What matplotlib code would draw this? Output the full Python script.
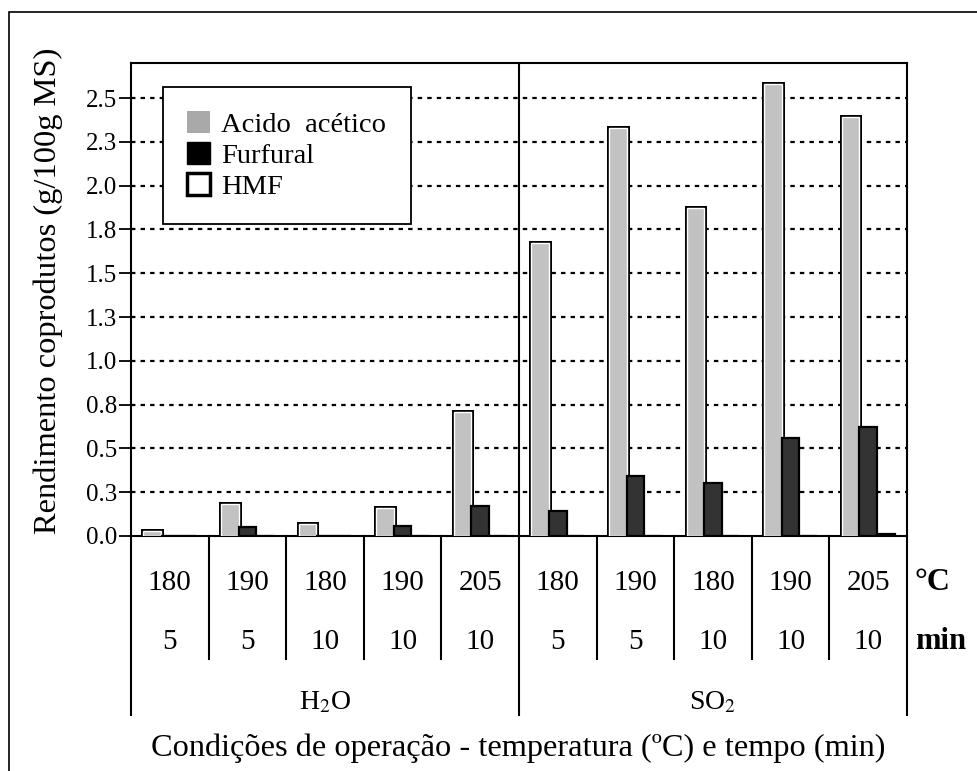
import matplotlib
matplotlib.use('Agg')
import matplotlib.pyplot as plt
import matplotlib.patheffects as pe
from matplotlib.patches import Patch, Rectangle
import numpy as np

plt.rcParams['font.family'] = ['Liberation Serif', 'DejaVu Serif']
plt.rcParams['mathtext.fontset'] = 'stix'

# rendimento dos coprodutos (g/100g MS) por condição de operação
temperaturas = ['180', '190', '180', '190', '205', '180', '190', '180', '190', '205']
tempos = ['5', '5', '10', '10', '10', '5', '5', '10', '10', '10']
meios = ['H$_2$O', 'SO$_2$']
acido_acetico = [0.03, 0.18, 0.07, 0.16, 0.71, 1.67, 2.33, 1.87, 2.58, 2.39]
furfural = [0.00, 0.05, 0.00, 0.055, 0.17, 0.145, 0.34, 0.30, 0.56, 0.62]
hmf = [0.0, 0.0, 0.0, 0.0, 0.0, 0.0, 0.0, 0.0, 0.0, 0.01]
yticks = [0.0, 0.25, 0.5, 0.75, 1.0, 1.25, 1.5, 1.75, 2.0, 2.25, 2.5]
ytick_labels = ['0.0', '0.3', '0.5', '0.8', '1.0', '1.3', '1.5', '1.8', '2.0', '2.3', '2.5']

W, H = 978, 771
fig = plt.figure(figsize=(W / 100, H / 100), dpi=100)
ax = fig.add_axes([131 / W, 1 - 536 / H, (907 - 131) / W, (536 - 63) / H])

# moldura externa da figura
fig.patches.append(Rectangle((9 / W, -0.1), 1.2, 1.1 - 12 / H, transform=fig.transFigure,
                             fill=False, ec='black', lw=1.2))

x = np.arange(len(temperaturas))
w = 0.226
ax.bar(x - w, acido_acetico, w, color='#c2c2c2', ec='white', lw=1.0, zorder=3,
       path_effects=[pe.Stroke(linewidth=3.6, foreground='black'), pe.Normal()])
ax.bar(x, furfural, w, color='#333333', ec='black', lw=1.6, zorder=3)
ax.bar(x + w, hmf, w, color='white', ec='black', lw=1.6, zorder=3)

ax.set_xlim(-0.5, 9.5)
ax.set_ylim(0, 2.7)
ax.set_xticks([])
ax.set_yticks(yticks)
ax.set_yticklabels(ytick_labels, fontsize=18)
ax.tick_params(axis='y', direction='out', length=9, width=1.3, pad=1)
for y in yticks[1:]:
    ax.axhline(y, color='black', lw=1.6, ls=(0, (2, 2.3)), zorder=1)
ax.axvline(4.5, color='black', lw=1.5, zorder=2)
for s in ax.spines.values():
    s.set_linewidth(1.5)

ax.set_ylabel('Rendimento coprodutos (g/100g MS)', fontsize=23.4)
ax.yaxis.set_label_coords((63 - 131) / 776, (536 - 291) / 473)

# tabela de condições abaixo do eixo
tr = ax.get_xaxis_transform()
for b in np.arange(0.5, 9.5, 1.0):
    if b == 4.5:
        continue
    ax.plot([b, b], [0, -0.26], color='black', lw=1.5, transform=tr, clip_on=False)
for b in [-0.5, 4.5, 9.5]:
    ax.plot([b, b], [0, -0.378], color='black', lw=1.5, transform=tr, clip_on=False)
for i in x:
    ax.text(i, -0.099, temperaturas[i], ha='center', va='center', fontsize=21, transform=tr)
    ax.text(i, -0.224, tempos[i], ha='center', va='center', fontsize=21, transform=tr)
for k, meio in enumerate(meios):
    ax.text(2 + 5 * k, -0.353, meio, ha='center', va='center', fontsize=20, transform=tr)
ax.text(9.6, -0.099, '°C', ha='left', va='center', fontsize=23, fontweight='bold', transform=tr)
ax.text(9.6, -0.224, 'min', ha='left', va='center', fontsize=22, fontweight='bold', transform=tr)

fig.text(518 / W, 1 - 748 / H, 'Condições de operação - temperatura (ºC) e tempo (min)',
         ha='center', va='center', fontsize=23.3)

handles = [Patch(fc='#a9a9a9', ec='none'),
           Patch(fc='black', ec='black'),
           Patch(fc='white', ec='black', lw=2.5)]
leg = ax.legend(handles, ['Acido  acético', 'Furfural', 'HMF'], loc='upper left',
                bbox_to_anchor=((163 - 131) / 776, (536 - 87) / 473), borderaxespad=0,
                fontsize=20.5, fancybox=False, framealpha=1, edgecolor='black',
                handlelength=0.8, handleheight=0.8, handletextpad=0.4, labelspacing=0.15,
                borderpad=0.85)
leg.get_frame().set_linewidth(1.3)
leg.set_zorder(5)

fig.savefig('out.png', dpi=100)
